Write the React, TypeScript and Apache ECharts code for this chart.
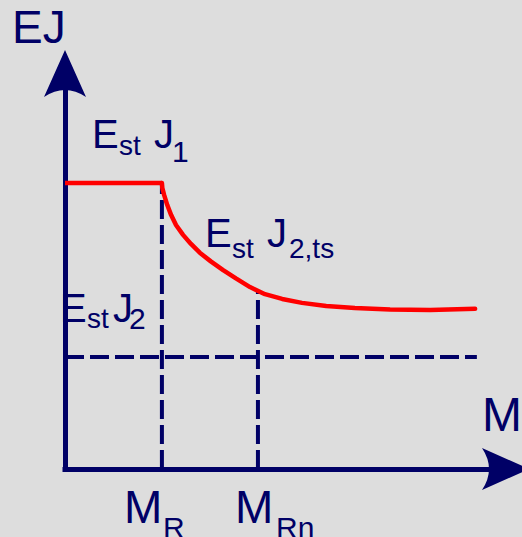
import React, { useEffect, useRef } from 'react';
import * as echarts from 'echarts';

const NAVY = '#000066';
const RED = '#ff0000';
const BG = '#dddddd';
const FONT = '"Liberation Sans", Arial, sans-serif';

// Data (arbitrary units, axes 0..10)
const plateauX = [0, 2.2];
const plateauY = [7.23, 7.23];
const curveX = [2.2, 2.21, 2.25, 2.32, 2.41, 2.52, 2.68, 2.86, 3.06, 3.31, 3.59, 3.88, 4.2, 4.54, 4.93, 5.38, 5.93, 6.58, 7.38, 8.29, 9.31];
const curveY = [7.23, 7.1, 6.93, 6.68, 6.42, 6.17, 5.92, 5.69, 5.47, 5.25, 5.03, 4.82, 4.6, 4.42, 4.3, 4.2, 4.12, 4.07, 4.03, 4.02, 4.05];
const mR = 2.2;
const mRn = 4.38;
const ej1 = 7.23;
const ej2 = 2.83;
const ej2tsAtMRn = 4.5;
const ej2LineEnd = 9.35;

// Text pieces: [text, left x, baseline y, font size]
const labels: [string, number, number, number][] = [
  ['EJ', 12, 43, 46],
  ['E', 92, 148, 40], ['st', 119, 155, 28], ['J', 154, 148, 40], ['1', 172, 162, 30],
  ['E', 205, 247, 40], ['st', 232, 258, 28], ['J', 267, 247, 40], ['2,ts', 289, 258, 28],
  ['E', 60, 322, 40], ['st', 87, 328, 28], ['J', 113, 322, 40], ['2', 129, 329, 30],
  ['M', 124, 523, 46], ['R', 163, 538, 30],
  ['M', 235, 523, 46], ['Rn', 276, 538, 30],
  ['M', 482, 431, 48],
];

const ARROW = 'path://M21 0 L42 47 Q21 33 0 47 Z';

export default function App() {
  const ref = useRef<HTMLDivElement>(null);
  useEffect(() => {
    if (!ref.current) return;
    const chart = echarts.init(ref.current, null, { renderer: 'svg' });
    const axisLine = {
      show: true,
      onZero: true,
      symbol: ['none', ARROW],
      symbolSize: [42, 47],
      lineStyle: { color: NAVY, width: 5, cap: 'square' },
    };
    const dashed = { color: NAVY, width: 4, type: [19, 6] as any };
    const zip = (xs: number[], ys: number[]) => xs.map((x, i) => [x, ys[i]]);
    chart.setOption({
      animation: false,
      backgroundColor: BG,
      grid: { left: 65, right: 16.5, top: 73.5, bottom: 68 },
      xAxis: {
        type: 'value', min: 0, max: 10,
        axisLine, axisTick: { show: false }, axisLabel: { show: false }, splitLine: { show: false },
      },
      yAxis: {
        type: 'value', min: 0, max: 10,
        axisLine, axisTick: { show: false }, axisLabel: { show: false }, splitLine: { show: false },
      },
      series: [
        { type: 'line', data: [[mR, 0], [mR, ej1]], showSymbol: false, lineStyle: dashed, silent: true },
        { type: 'line', data: [[mRn, 0], [mRn, ej2tsAtMRn]], showSymbol: false, lineStyle: dashed, silent: true },
        { type: 'line', data: [[0, ej2], [ej2LineEnd, ej2]], showSymbol: false, lineStyle: dashed, silent: true },
        { type: 'line', data: zip(plateauX, plateauY), showSymbol: false, lineStyle: { color: RED, width: 4.5 }, z: 3 },
        {
          type: 'line', data: zip(curveX, curveY), showSymbol: false, smooth: false,
          lineStyle: { color: RED, width: 4.5, join: 'round', cap: 'round' }, z: 3,
        },
      ],
      graphic: labels.map(([text, x, base, size]) => ({
        type: 'text',
        x,
        y: base - 0.35 * size,
        z: 10,
        style: {
          text,
          fill: NAVY,
          fontSize: size,
          fontFamily: FONT,
          verticalAlign: 'middle',
          align: 'left',
        },
      })),
    });
    return () => chart.dispose();
  }, []);
  return (
    <div
      ref={ref}
      style={{ position: 'absolute', left: 0, top: 0, width: 522, height: 537, background: BG }}
    />
  );
}
